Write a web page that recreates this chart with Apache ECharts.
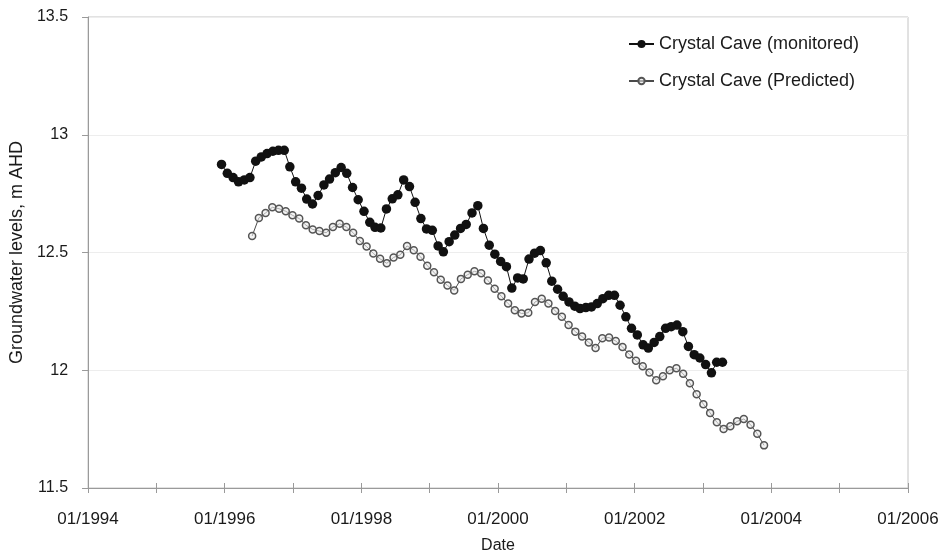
<!DOCTYPE html>
<html>
<head>
<meta charset="utf-8">
<title>Crystal Cave groundwater levels</title>
<script src="https://cdn.jsdelivr.net/npm/echarts@6/dist/echarts.min.js"></script>
<style>
  html, body { margin: 0; padding: 0; background: #ffffff; }
  #chart { width: 947px; height: 559px; }
</style>
</head>
<body>
<div id="chart"></div>
<script>
// Monthly monitored readings (mid-month), Dec 1995 to Apr 2003, m AHD
const monitoredStart = '1995-12-15';
const monitoredLevels = [
  12.874, 12.836, 12.818, 12.800, 12.808, 12.818, 12.888, 12.906, 12.920, 12.930,
  12.934, 12.934, 12.864, 12.800, 12.773, 12.727, 12.706, 12.742, 12.787, 12.812,
  12.839, 12.861, 12.836, 12.776, 12.724, 12.675, 12.628, 12.607, 12.604, 12.685,
  12.728, 12.745, 12.808, 12.780, 12.713, 12.644, 12.600, 12.594, 12.528, 12.503,
  12.546, 12.574, 12.602, 12.619, 12.668, 12.699, 12.602, 12.531, 12.493, 12.462,
  12.440, 12.349, 12.392, 12.388, 12.472, 12.497, 12.508, 12.456, 12.378, 12.344,
  12.314, 12.290, 12.272, 12.262, 12.266, 12.269, 12.283, 12.304, 12.318, 12.318,
  12.276, 12.227, 12.178, 12.150, 12.108, 12.094, 12.118, 12.143, 12.178, 12.185,
  12.192, 12.164, 12.101, 12.066, 12.052, 12.024, 11.989, 12.034, 12.034
];

// Model output, one value every 36 days from late May 1996, m AHD
const predictedStart = '1996-05-27';
const predictedStepDays = 36;
const predictedLevels = [
  12.570, 12.647, 12.668, 12.692, 12.686, 12.675, 12.658, 12.644, 12.616, 12.598,
  12.591, 12.584, 12.608, 12.622, 12.608, 12.584, 12.549, 12.525, 12.496, 12.473,
  12.454, 12.479, 12.490, 12.528, 12.510, 12.482, 12.444, 12.416, 12.384, 12.360,
  12.339, 12.388, 12.406, 12.420, 12.412, 12.381, 12.346, 12.314, 12.283, 12.255,
  12.241, 12.244, 12.290, 12.304, 12.283, 12.252, 12.227, 12.192, 12.164, 12.143,
  12.118, 12.094, 12.136, 12.139, 12.124, 12.099, 12.067, 12.040, 12.017, 11.990,
  11.958, 11.975, 12.000, 12.008, 11.985, 11.945, 11.898, 11.856, 11.819, 11.779,
  11.751, 11.762, 11.783, 11.793, 11.769, 11.730, 11.681
];

// Axis ranges and tick labels
const yearMin = 1994, yearMax = 2006;
const levelMin = 11.5, levelMax = 13.5, levelStep = 0.5;
const yTickLabels = { 11.5: '11.5', 12: '12', 12.5: '12.5', 13: '13', 13.5: '13.5' };

const seriesNames = ['Crystal Cave (monitored)', 'Crystal Cave (Predicted)'];

// Convert a Date into a fractional year for the linear date axis
function toDecimalYear(d) {
  const y = d.getUTCFullYear();
  const start = Date.UTC(y, 0, 1), end = Date.UTC(y + 1, 0, 1);
  return y + (d.getTime() - start) / (end - start);
}

function monthlyPoints(startIso, values) {
  const s = new Date(startIso + 'T00:00:00Z');
  return values.map((v, i) => {
    const d = new Date(Date.UTC(s.getUTCFullYear(), s.getUTCMonth() + i, s.getUTCDate()));
    return [toDecimalYear(d), v];
  });
}

function steppedPoints(startIso, stepDays, values) {
  const s = new Date(startIso + 'T00:00:00Z').getTime();
  return values.map((v, i) => [toDecimalYear(new Date(s + i * stepDays * 86400000)), v]);
}

const font = '"Liberation Sans", Arial, sans-serif';
const ink = '#1a1a1a';

const chart = echarts.init(document.getElementById('chart'), null, { renderer: 'canvas' });

chart.setOption({
  animation: false,
  backgroundColor: '#ffffff',
  textStyle: { fontFamily: font, color: ink },
  grid: {
    left: 85, right: 39, top: 17, bottom: 66,
    show: true, borderColor: '#c4c4c4', borderWidth: 1, backgroundColor: 'transparent'
  },
  legend: [
    {
      data: [seriesNames[0]],
      left: 628, top: 35, padding: 0,
      itemWidth: 25, itemHeight: 10, itemGap: 5,
      textStyle: { fontFamily: font, fontSize: 18, color: ink }
    },
    {
      data: [seriesNames[1]],
      left: 628, top: 72, padding: 0,
      itemWidth: 25, itemHeight: 8, itemGap: 5,
      textStyle: { fontFamily: font, fontSize: 18, color: ink }
    }
  ],
  xAxis: [
    {
      type: 'value',
      min: yearMin, max: yearMax, interval: 1,
      name: 'Date',
      nameLocation: 'middle',
      nameGap: 50,
      nameTextStyle: { fontFamily: font, fontSize: 16, color: ink },
      axisLine: { show: true, lineStyle: { color: '#9a9a9a', width: 1 } },
      axisTick: { show: true, inside: false, length: 5, lineStyle: { color: '#9a9a9a' } },
      axisLabel: {
        fontFamily: font, fontSize: 17, color: ink, margin: 23,
        formatter: v => (v % 2 === 0 ? '01/' + v : '')
      },
      splitLine: { show: false }
    },
    {
      type: 'value',
      min: yearMin, max: yearMax, interval: 1,
      position: 'bottom',
      axisLine: { show: false },
      axisTick: { show: true, inside: true, length: 5, lineStyle: { color: '#9a9a9a' } },
      axisLabel: { show: false },
      splitLine: { show: false }
    }
  ],
  yAxis: {
    type: 'value',
    min: levelMin, max: levelMax, interval: levelStep,
    name: 'Groundwater levels, m AHD',
    nameLocation: 'middle',
    nameRotate: 90,
    nameGap: 52,
    nameTextStyle: { fontFamily: font, fontSize: 18, color: ink },
    axisLine: { show: true, lineStyle: { color: '#9a9a9a', width: 1 } },
    axisTick: { show: true, inside: false, length: 6, lineStyle: { color: '#9a9a9a' } },
    axisLabel: {
      fontFamily: font, fontSize: 16, color: ink, margin: 20,
      formatter: v => yTickLabels[v] !== undefined ? yTickLabels[v] : ''
    },
    splitLine: { show: true, lineStyle: { color: '#ededed', width: 1 } }
  },
  series: [
    {
      name: seriesNames[0],
      type: 'line',
      data: monthlyPoints(monitoredStart, monitoredLevels),
      symbol: 'circle',
      symbolSize: 9.5,
      showAllSymbol: true,
      lineStyle: { color: '#111111', width: 1 },
      itemStyle: { color: '#111111', borderColor: '#111111', borderWidth: 0 },
      z: 3
    },
    {
      name: seriesNames[1],
      type: 'line',
      data: steppedPoints(predictedStart, predictedStepDays, predictedLevels),
      symbol: 'circle',
      symbolSize: 7,
      showAllSymbol: true,
      lineStyle: { color: '#4a4a4a', width: 1 },
      itemStyle: { color: 'rgba(235,235,235,0.6)', borderColor: '#555555', borderWidth: 1.5 },
      z: 2
    }
  ]
});
</script>
</body>
</html>
